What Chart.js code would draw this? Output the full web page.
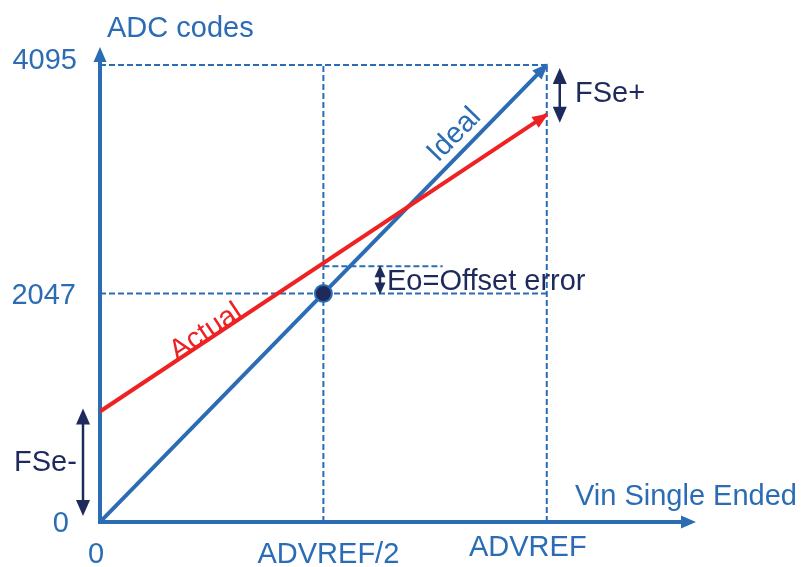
<!DOCTYPE html>
<html>
<head>
<meta charset="utf-8">
<script src="https://cdn.jsdelivr.net/npm/chart.js@4.4.1/dist/chart.umd.min.js"></script>
<style>
  html, body { margin: 0; padding: 0; background: #ffffff; }
  #wrap { width: 802px; height: 567px; position: relative; }
</style>
</head>
<body>
<div id="wrap"><canvas id="c" width="802" height="567"></canvas></div>
<script>
// ---- data ----
const xTickValues = [0, 0.5, 1];
const xTickLabels = ['0', 'ADVREF/2', 'ADVREF'];
const yTickValues = [0, 2047, 4095];
const yTickLabels = ['0', '2047', '4095'];
const idealX = [0, 1];
const idealY = [0, 4095];
const actualX = [0, 1];
const actualY = [990, 3650];
const midPoint = [0.5, 2047];
const offsetLevel = 2292;
const xAxisMax = 1.334;
const yAxisMax = 4256;

const BLUE = '#2b6cb4';
const RED = '#ee2222';
const NAVY = '#1f2a5c';
const FONT = '29px "Liberation Sans", Arial, sans-serif';

const toPts = (xs, ys) => xs.map((x, i) => ({ x: x, y: ys[i] }));

function arrowHead(ctx, x1, y1, x2, y2, len, half, color) {
  const a = Math.atan2(y2 - y1, x2 - x1);
  ctx.save();
  ctx.fillStyle = color;
  ctx.beginPath();
  ctx.moveTo(x2, y2);
  ctx.lineTo(x2 - len * Math.cos(a) + half * Math.sin(a), y2 - len * Math.sin(a) - half * Math.cos(a));
  ctx.lineTo(x2 - len * Math.cos(a) - half * Math.sin(a), y2 - len * Math.sin(a) + half * Math.cos(a));
  ctx.closePath();
  ctx.fill();
  ctx.restore();
}

function doubleArrow(ctx, x, yTop, yBot, color, len, half) {
  ctx.save();
  ctx.strokeStyle = color;
  ctx.lineWidth = 2.5;
  ctx.beginPath();
  ctx.moveTo(x, yTop + 8);
  ctx.lineTo(x, yBot - 8);
  ctx.stroke();
  ctx.restore();
  arrowHead(ctx, x, yBot, x, yTop, len, half, color);
  arrowHead(ctx, x, yTop, x, yBot, len, half, color);
}

function text(ctx, s, x, y, color, align, rot) {
  ctx.save();
  ctx.font = FONT;
  ctx.fillStyle = color;
  ctx.textAlign = align || 'left';
  ctx.textBaseline = 'alphabetic';
  ctx.translate(x, y);
  if (rot) ctx.rotate(rot);
  ctx.fillText(s, 0, 0);
  ctx.restore();
}

const decor = {
  id: 'decor',
  beforeDatasetsDraw(chart) {
    const ctx = chart.ctx;
    const xs = chart.scales.x, ys = chart.scales.y;
    const x0 = xs.getPixelForValue(0), y0 = ys.getPixelForValue(0);
    const xEnd = xs.getPixelForValue(xAxisMax), yEnd = ys.getPixelForValue(yAxisMax);
    ctx.save();
    ctx.strokeStyle = BLUE;
    ctx.lineWidth = 4;
    ctx.lineCap = 'butt';
    ctx.beginPath();
    ctx.moveTo(x0, y0 + 2);
    ctx.lineTo(x0, yEnd + 12);
    ctx.moveTo(x0 - 2, y0);
    ctx.lineTo(xEnd - 12, y0);
    ctx.stroke();
    ctx.restore();
    arrowHead(ctx, x0, y0, x0, yEnd, 15, 6.5, BLUE);
    arrowHead(ctx, x0, y0, xEnd, y0, 15, 6.5, BLUE);
  },
  afterDatasetsDraw(chart) {
    const ctx = chart.ctx;
    const xs = chart.scales.x, ys = chart.scales.y;
    const px = v => xs.getPixelForValue(v);
    const py = v => ys.getPixelForValue(v);

    // line arrow heads
    const ia = [px(idealX[0]), py(idealY[0]), px(idealX[1]), py(idealY[1])];
    const aa = [px(actualX[0]), py(actualY[0]), px(actualX[1]), py(actualY[1])];
    const ext = (p, d) => {
      const a = Math.atan2(p[3] - p[1], p[2] - p[0]);
      return [p[0], p[1], p[2] + d * Math.cos(a), p[3] + d * Math.sin(a)];
    };
    const ie = ext(ia, 2), ae = ext(aa, 2);
    arrowHead(ctx, ie[0], ie[1], ie[2], ie[3], 16, 6.5, BLUE);
    arrowHead(ctx, ae[0], ae[1], ae[2], ae[3], 16, 6.5, RED);

    // tick labels
    text(ctx, yTickLabels[2], 77, py(yTickValues[2]) + 4, BLUE, 'right');
    text(ctx, yTickLabels[1], 76, py(yTickValues[1]) + 10, BLUE, 'right');
    text(ctx, yTickLabels[0], 69, py(yTickValues[0]) + 10, BLUE, 'right');
    text(ctx, xTickLabels[0], px(xTickValues[0]) - 4, 563, BLUE, 'center');
    text(ctx, xTickLabels[1], px(xTickValues[1]) + 5, 563, BLUE, 'center');
    text(ctx, xTickLabels[2], px(xTickValues[2]) - 19, 556, BLUE, 'center');

    // axis titles
    text(ctx, 'ADC codes', 107, 37, BLUE, 'left');
    text(ctx, 'Vin Single Ended', 575, 505, BLUE, 'left');

    // line labels
    const angI = Math.atan2(ia[3] - ia[1], ia[2] - ia[0]);
    const angA = Math.atan2(aa[3] - aa[1], aa[2] - aa[0]);
    text(ctx, 'Ideal', 438, 163, BLUE, 'left', angI);
    text(ctx, 'Actual', 177, 361, RED, 'left', angA);

    // error annotations
    const fx = px(1) + 13;
    doubleArrow(ctx, fx, py(idealY[1]) + 3, py(actualY[1]) + 8, NAVY, 16, 7);
    text(ctx, 'FSe+', 575, 102, NAVY, 'left');

    const gx = px(0) - 17;
    doubleArrow(ctx, gx, py(actualY[0]) - 3, py(0) - 6, NAVY, 16, 7);
    text(ctx, 'FSe-', 14, 471, NAVY, 'left');

    const ex = 380;
    doubleArrow(ctx, ex, py(offsetLevel) - 1, py(midPoint[1]) + 1, NAVY, 12, 5.5);
    text(ctx, 'Eo=Offset error', 387, 290, NAVY, 'left');
  }
};

const dashStyle = { borderColor: BLUE, borderWidth: 2, borderDash: [6, 3], pointRadius: 0, showLine: true, fill: false };

new Chart(document.getElementById('c'), {
  type: 'scatter',
  data: {
    datasets: [
      { label: 'mid', data: [{ x: midPoint[0], y: midPoint[1] }], pointRadius: 8.5, pointBackgroundColor: NAVY, pointBorderColor: BLUE, pointBorderWidth: 2, showLine: false, order: 0 },
      { label: 'Actual', data: toPts(actualX, actualY), borderColor: RED, borderWidth: 4, pointRadius: 0, showLine: true, order: 1 },
      { label: 'Ideal', data: toPts(idealX, idealY), borderColor: BLUE, borderWidth: 4, pointRadius: 0, showLine: true, order: 2 },
      Object.assign({ label: 'h4095', data: [{ x: 0, y: yTickValues[2] }, { x: xTickValues[2], y: yTickValues[2] }], order: 3 }, dashStyle),
      Object.assign({ label: 'h2047', data: [{ x: 0, y: yTickValues[1] }, { x: xTickValues[2], y: yTickValues[1] }], order: 3 }, dashStyle),
      Object.assign({ label: 'vHalf', data: [{ x: xTickValues[1], y: 0 }, { x: xTickValues[1], y: yTickValues[2] }], order: 3 }, dashStyle),
      Object.assign({ label: 'vFull', data: [{ x: xTickValues[2], y: 0 }, { x: xTickValues[2], y: yTickValues[2] }], order: 3 }, dashStyle),
      Object.assign({ label: 'offset', data: [{ x: xTickValues[1], y: offsetLevel }, { x: 0.767, y: offsetLevel }], order: 3 }, dashStyle)
    ]
  },
  options: {
    responsive: false,
    animation: false,
    events: [],
    layout: { padding: { left: 100, right: 106, top: 47, bottom: 45 } },
    plugins: { legend: { display: false }, tooltip: { enabled: false } },
    scales: {
      x: { type: 'linear', min: 0, max: xAxisMax, display: false },
      y: { type: 'linear', min: 0, max: yAxisMax, display: false }
    }
  },
  plugins: [decor]
});
</script>
</body>
</html>
